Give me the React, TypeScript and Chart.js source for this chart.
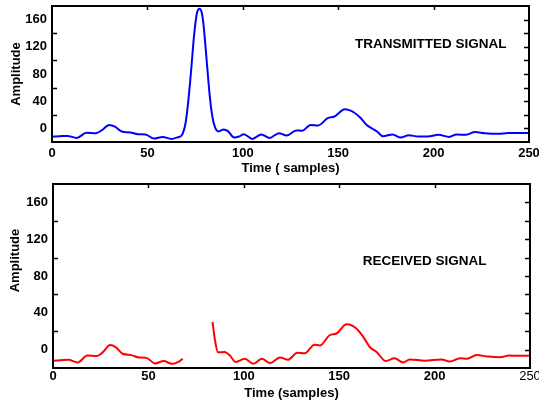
import React, { useEffect, useRef } from "react";
import { Chart, registerables } from "chart.js";

Chart.register(...registerables);

const FONT = '"Liberation Sans", Arial, Helvetica, sans-serif';

// ---- data ----
const transmittedTimes = [
  0, 4, 8, 13, 18, 23, 26, 30, 33, 36.5, 41, 45, 49, 53.5, 58, 62.5, 66, 68, 70, 71.5,
  73, 74.5, 76, 77.3, 78.5, 79.5, 81, 82.6, 84, 85.5, 87.3, 90, 92.2, 95.5, 98,
  100.5, 105, 109.7, 114, 119, 123, 128, 131, 135.6, 139.5, 144.5, 148, 153.5, 158.5, 161.5,
  164.8, 168, 170.5, 173.5, 178.5, 182.7, 187, 192, 197, 202.5, 208.2, 212, 217, 221.7, 227,
  234, 239, 244, 250,
];
const transmittedValues = [
  -12, -11.5, -11, -14, -6.5, -7, -3, 5, 2.5, -4.5, -6, -8.5, -9, -15, -12.5, -15.5, -13, -10, 8, 42,
  88, 138, 170, 176, 170, 150, 102, 50, 18, 1, -4.5, -1.5, -4, -13.5, -12,
  -8.5, -15.5, -8.8, -14, -7, -10.5, -3, -3.5, 5, 4.4, 15, 17.5, 28, 23, 16,
  5.5, -0.5, -5, -11.5, -8.9, -13.5, -10, -12, -11.8, -9.5, -12.5, -8.9, -9.5, -5.4, -7.2,
  -8, -6.7, -6.8, -6.7,
];

const receivedTimes = [
  0, 4, 8, 13, 18, 23, 26, 30, 33, 36.5, 41, 45, 49, 53.5, 58, 62.5, 66, 68,
  76,
  83.6, 85, 86.5, 90, 92.5, 95.8, 100.5, 105, 109.5, 113.8, 119, 123.2, 128, 132, 137, 139.8,
  145, 148.6, 153.8, 159, 162.6, 166, 169.6, 174.5, 179, 183.5, 187, 195, 203.5, 208, 213.3,
  217, 222, 228, 234.5, 239, 244, 250,
];
const receivedValues: (number | null)[] = [
  -12, -11.5, -11, -14, -6.5, -7, -3, 5, 2.5, -4.5, -6, -8.5, -9, -15, -12.5, -15.5, -13, -10,
  null,
  30, 9, -3, -2.6, -6, -13.5, -10, -15.5, -10, -14.6, -8.5, -11, -3.5, -4, 5.4, 4.4,
  15.6, 17.5, 27.6, 23, 13.8, 2.8, -2.6, -12.5, -9.5, -14, -10.7, -12, -10.7, -13, -9.5,
  -10, -5.9, -7.6, -8.3, -6.5, -6.8, -6.5,
];

const X_MIN = 0;
const X_MAX = 250;
const X_STEP = 50;
const Y_MIN = -20;
const Y_MAX = 180;
const Y_STEP = 20;
const yLabelled = [0, 40, 80, 120, 160];

type PanelSpec = {
  times: number[];
  values: (number | null)[];
  color: string;
  xTitle: string;
  note: string;
  noteX: number;
  noteY: number;
  top: number;
  height: number;
  padTop: number;
  padRight: number;
  yAxisWidth: number;
  xAxisHeight: number;
  xTickPad: number;
  xTitlePad: number;
  yTitleX: number;
  yTitleShift: number;
  lightLast: boolean;
};

const panels: PanelSpec[] = [
  {
    times: transmittedTimes,
    values: transmittedValues,
    color: "#0000ff",
    xTitle: "Time ( samples)",
    note: "TRANSMITTED SIGNAL",
    noteX: 158.8,
    noteY: 123.7,
    top: 0,
    height: 180,
    padTop: 6,
    padRight: 10,
    yAxisWidth: 52,
    xAxisHeight: 38,
    xTickPad: 3.5,
    xTitlePad: 4.2,
    yTitleX: 16.5,
    yTitleShift: 0,
    lightLast: false,
  },
  {
    times: receivedTimes,
    values: receivedValues,
    color: "#ff0000",
    xTitle: "Time (samples)",
    note: "RECEIVED SIGNAL",
    noteX: 162.3,
    noteY: 96,
    top: 180,
    height: 224,
    padTop: 4,
    padRight: 9,
    yAxisWidth: 53,
    xAxisHeight: 36,
    xTickPad: 1,
    xTitlePad: 2.9,
    yTitleX: 15.5,
    yTitleShift: -15.5,
    lightLast: true,
  },
];

function SignalPanel({ spec }: { spec: PanelSpec }) {
  const ref = useRef<HTMLCanvasElement>(null);

  useEffect(() => {
    const canvas = ref.current;
    if (!canvas) return;
    const points = spec.times.map((t, i) => ({ x: t, y: spec.values[i] }));

    const framePlugin = {
      id: "frameTicksNotes",
      afterDraw(chart: any) {
        const { ctx, chartArea } = chart;
        const { left, right, top, bottom } = chartArea;
        const xs = chart.scales.x;
        const ys = chart.scales.y;
        ctx.save();
        ctx.strokeStyle = "#000";
        ctx.lineWidth = 1.5;
        ctx.beginPath();
        ys.ticks.forEach((t: any) => {
          if (t.value <= Y_MIN || t.value >= Y_MAX) return;
          const py = Math.round(ys.getPixelForValue(t.value)) + 0.5;
          ctx.moveTo(right, py);
          ctx.lineTo(right - 5, py);
          if (!yLabelled.includes(t.value)) {
            ctx.moveTo(left, py);
            ctx.lineTo(left + 5, py);
          }
        });
        xs.ticks.forEach((t: any) => {
          if (t.value <= X_MIN || t.value >= X_MAX) return;
          const px = Math.round(xs.getPixelForValue(t.value)) + 0.5;
          ctx.moveTo(px, top);
          ctx.lineTo(px, top + 4);
        });
        ctx.stroke();

        ctx.lineWidth = 2;
        ctx.strokeRect(left, top, right - left, bottom - top);

        ctx.fillStyle = "#000";
        ctx.font = `bold 13.5px ${FONT}`;
        ctx.textAlign = "left";
        ctx.textBaseline = "middle";
        ctx.fillText(spec.note, xs.getPixelForValue(spec.noteX), ys.getPixelForValue(spec.noteY));

        ctx.font = `bold 13px ${FONT}`;
        ctx.translate(spec.yTitleX, (top + bottom) / 2 + spec.yTitleShift);
        ctx.rotate(-Math.PI / 2);
        ctx.textAlign = "center";
        ctx.fillText("Amplitude", 0, 0);
        ctx.restore();
      },
    };

    const chart = new Chart(canvas, {
      type: "line",
      data: {
        datasets: [
          {
            data: points as any,
            borderColor: spec.color,
            backgroundColor: spec.color,
            borderWidth: 2,
            pointRadius: 0,
            fill: false,
            cubicInterpolationMode: "monotone",
            spanGaps: false,
          },
        ],
      },
      options: {
        responsive: false,
        animation: false,
        devicePixelRatio: 1,
        layout: { padding: { top: spec.padTop, right: spec.padRight, left: 0, bottom: 0 } },
        plugins: { legend: { display: false }, tooltip: { enabled: false } },
        scales: {
          x: {
            type: "linear",
            min: X_MIN,
            max: X_MAX,
            grid: { display: false, drawTicks: false },
            border: { display: false },
            ticks: {
              stepSize: X_STEP,
              autoSkip: false,
              maxRotation: 0,
              color: "#000",
              padding: spec.xTickPad,
              font: (c: any) => ({
                family: FONT,
                size: 13,
                weight: spec.lightLast && c.tick && c.tick.value === X_MAX ? "normal" : "bold",
              }),
            },
            title: {
              display: true,
              text: spec.xTitle,
              color: "#000",
              font: { family: FONT, size: 13, weight: "bold" },
              padding: { top: 0, bottom: spec.xTitlePad },
            },
            afterFit: (s: any) => {
              s.height = spec.xAxisHeight;
              s.paddingLeft = 0;
              s.paddingRight = 0;
            },
          },
          y: {
            type: "linear",
            min: Y_MIN,
            max: Y_MAX,
            grid: { display: false, drawTicks: false },
            border: { display: false },
            ticks: {
              stepSize: Y_STEP,
              autoSkip: false,
              color: "#000",
              padding: 5,
              font: { family: FONT, size: 13, weight: "bold" },
              callback: (v: any) => (yLabelled.includes(Number(v)) ? String(v) : ""),
            },
            afterFit: (s: any) => {
              s.width = spec.yAxisWidth;
              s.paddingTop = 0;
              s.paddingBottom = 0;
            },
          },
        },
      } as any,
      plugins: [framePlugin],
    });
    return () => chart.destroy();
  }, [spec]);

  return (
    <canvas
      ref={ref}
      width={539}
      height={spec.height}
      style={{ display: "block", position: "absolute", left: 0, top: spec.top, width: 539, height: spec.height }}
    />
  );
}

export default function App() {
  return (
    <div style={{ position: "absolute", left: 0, top: 0, width: 539, height: 404, background: "#fff" }}>
      {panels.map((p, i) => (
        <SignalPanel key={i} spec={p} />
      ))}
    </div>
  );
}
